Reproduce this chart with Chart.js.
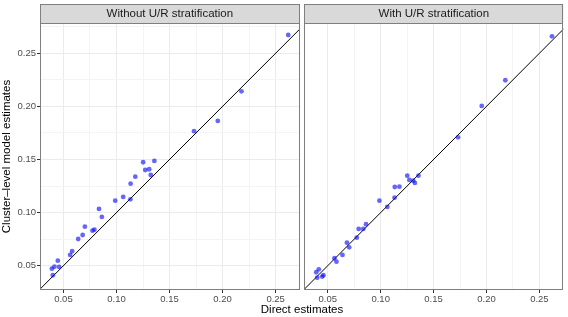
<!DOCTYPE html>
<html>
<head>
<meta charset="utf-8">
<script src="https://cdn.jsdelivr.net/npm/chart.js@4.4.1/dist/chart.umd.min.js"></script>
<style>
  html, body { margin: 0; padding: 0; background: #fff; }
  #wrap { position: relative; width: 568px; height: 317px; overflow: hidden; font-family: "Liberation Sans", Arial, sans-serif; }
  #c1 { position: absolute; left: 0; top: 0; }
  #c2 { position: absolute; left: 302px; top: 0; }
  #xtitle { position: absolute; left: 0; width: 604px; top: 303px; text-align: center; font-size: 11.5px; color: #000; }
</style>
</head>
<body>
<div id="wrap">
  <canvas id="c1" width="302" height="317"></canvas>
  <canvas id="c2" width="266" height="317"></canvas>
  <div id="xtitle">Direct estimates</div>
</div>
<script>
// panel titles
const panels = ['Without U/R stratification', 'With U/R stratification'];

// direct estimates (shared by both panels)
const direct = [0.2619, 0.2178, 0.1955, 0.1731, 0.1357, 0.1251, 0.1271, 0.1308, 0.1323, 0.1177,
  0.1133, 0.1131, 0.1063, 0.0988, 0.0835, 0.0862, 0.0702, 0.0681, 0.0639, 0.0774,
  0.0792, 0.0582, 0.0563, 0.0447, 0.0391, 0.0415, 0.0459, 0.0400];

// cluster-level model estimates
const modelNoStrat = [0.2672, 0.2142, 0.1863, 0.1766, 0.1486, 0.1474, 0.1401, 0.1408, 0.1354, 0.1338,
  0.1272, 0.1125, 0.1147, 0.1112, 0.1034, 0.0959, 0.0867, 0.0789, 0.0751, 0.0830,
  0.0839, 0.0636, 0.0601, 0.0547, 0.0472, 0.0491, 0.0488, 0.0410];
const modelStrat = [0.2660, 0.2246, 0.2004, 0.1709, 0.1347, 0.1347, 0.1307, 0.1300, 0.1279, 0.1244,
  0.1241, 0.1140, 0.1053, 0.1112, 0.0846, 0.0890, 0.0673, 0.0717, 0.0601, 0.0764,
  0.0846, 0.0538, 0.0570, 0.0397, 0.0438, 0.0466, 0.0410, 0.0387];

// y = x reference line
const identity = [0, 0.4];

const xTicks = [0.05, 0.075, 0.10, 0.125, 0.15, 0.175, 0.20, 0.225, 0.25];
const yTicks = [0.05, 0.075, 0.10, 0.125, 0.15, 0.175, 0.20, 0.225, 0.25, 0.275];
const majors = [0.05, 0.10, 0.15, 0.20, 0.25];
const xRange = [0.0279, 0.2726];
const yRange = [0.0271, 0.2785];

const FONT = '"Liberation Sans", Arial, sans-serif';
const isMajor = v => majors.some(m => Math.abs(m - v) < 1e-6);

const panelDeco = {
  id: 'panelDeco',
  beforeDraw(chart, args, opts) {
    const { ctx, chartArea: a } = chart;
    ctx.save();
    ctx.fillStyle = '#d9d9d9';
    ctx.fillRect(a.left, 4, a.right - a.left, a.top - 4);
    ctx.restore();
  },
  afterDraw(chart, args, opts) {
    const { ctx, chartArea: a } = chart;
    ctx.save();
    ctx.strokeStyle = '#7f7f7f';
    ctx.lineWidth = 1;
    ctx.strokeRect(Math.round(a.left) + 0.5, 4.5, Math.round(a.right - a.left) - 1, a.top - 4);
    ctx.strokeRect(Math.round(a.left) + 0.5, Math.round(a.top) + 0.5, Math.round(a.right - a.left) - 1, Math.round(a.bottom - a.top) - 1);
    ctx.fillStyle = '#1a1a1a';
    ctx.font = '11.5px ' + FONT;
    ctx.textAlign = 'center';
    ctx.textBaseline = 'middle';
    ctx.fillText(opts.text, (a.left + a.right) / 2, (4 + a.top) / 2 + 0.5);
    ctx.restore();
  }
};

function gridOpts() {
  return {
    color: c => isMajor(c.tick.value) ? '#ebebeb' : '#f4f4f4',
    lineWidth: 1,
    drawTicks: true,
    tickLength: 3,
    tickColor: c => isMajor(c.tick.value) ? '#333333' : 'rgba(0,0,0,0)'
  };
}

function makeChart(id, yVals, title, showY, pad) {
  const pts = direct.map((x, i) => ({ x: x, y: yVals[i] }));
  return new Chart(document.getElementById(id), {
    type: 'scatter',
    data: {
      datasets: [
        {
          data: pts,
          backgroundColor: 'rgba(0,0,255,0.6)',
          borderWidth: 0,
          pointRadius: 2.4,
          pointHoverRadius: 2.4
        },
        {
          data: identity.map(v => ({ x: v, y: v })),
          showLine: true,
          borderColor: '#000',
          borderWidth: 1,
          pointRadius: 0
        }
      ]
    },
    options: {
      responsive: false,
      animation: false,
      events: [],
      layout: { padding: pad },
      plugins: {
        legend: { display: false },
        tooltip: { enabled: false },
        panelDeco: { text: title }
      },
      scales: {
        x: {
          type: 'linear',
          min: xRange[0], max: xRange[1],
          afterBuildTicks: s => { s.ticks = xTicks.map(v => ({ value: v })); },
          afterFit: s => { s.height = 27; },
          ticks: {
            autoSkip: false, maxRotation: 0, padding: 1,
            color: '#4d4d4d', font: { family: FONT, size: 9.5 },
            callback: v => isMajor(v) ? v.toFixed(2) : ''
          },
          grid: gridOpts(),
          border: { display: false }
        },
        y: {
          type: 'linear',
          display: showY,
          min: yRange[0], max: yRange[1],
          afterBuildTicks: s => { s.ticks = yTicks.map(v => ({ value: v })); },
          afterFit: s => { s.width = showY ? 40 : 0; },
          ticks: {
            autoSkip: false, padding: 1,
            color: '#4d4d4d', font: { family: FONT, size: 9.5 },
            callback: v => isMajor(v) ? v.toFixed(2) : ''
          },
          title: {
            display: true, text: 'Cluster\u2013level model estimates',
            color: '#000', font: { family: FONT, size: 11.5 },
            padding: { top: 0, bottom: 0 }
          },
          grid: gridOpts(),
          border: { display: false }
        }
      }
    },
    plugins: [panelDeco]
  });
}

makeChart('c1', modelNoStrat, panels[0], true, { top: 23, right: 2.3, left: 0, bottom: 0 });
makeChart('c2', modelStrat, panels[1], false, { top: 23, right: 4.7, left: 2.3, bottom: 0 });
</script>
</body>
</html>
